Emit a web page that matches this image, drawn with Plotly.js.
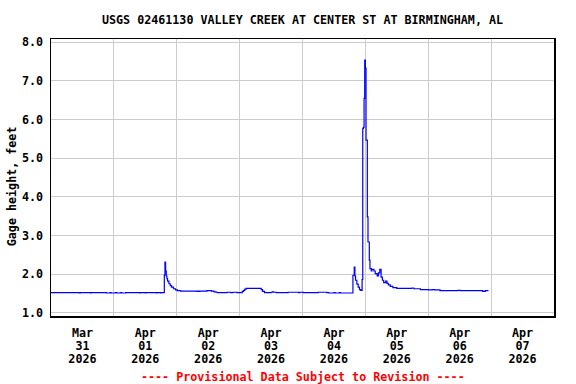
<!DOCTYPE html>
<html>
<head>
<meta charset="utf-8">
<script src="https://cdn.plot.ly/plotly-3.0.1.min.js"></script>
<style>
html,body{margin:0;padding:0;background:#fff;}
#chart{width:576px;height:384px;}
</style>
</head>
<body>
<div id="chart"></div>
<script>
// ---- data ----
const times = [
"2026-03-31 00:00","2026-03-31 10:45","2026-03-31 11:15","2026-03-31 15:00","2026-03-31 15:15",
"2026-03-31 21:15","2026-03-31 22:30","2026-03-31 23:00","2026-04-01 00:30","2026-04-01 01:15",
"2026-04-01 02:30","2026-04-01 03:00","2026-04-01 04:30","2026-04-01 10:00","2026-04-01 10:15",
"2026-04-01 12:00","2026-04-01 12:15","2026-04-01 16:15","2026-04-01 16:30","2026-04-01 17:45",
"2026-04-01 18:00","2026-04-01 19:15","2026-04-01 19:30","2026-04-01 19:45","2026-04-01 20:00",
"2026-04-01 20:15","2026-04-01 20:30","2026-04-01 21:00","2026-04-01 21:30","2026-04-01 22:00",
"2026-04-01 22:45","2026-04-01 23:30","2026-04-02 00:15","2026-04-02 01:30","2026-04-02 07:45",
"2026-04-02 08:00","2026-04-02 08:30","2026-04-02 08:45","2026-04-02 11:30","2026-04-02 13:15",
"2026-04-02 14:15","2026-04-02 15:00","2026-04-02 15:30","2026-04-02 19:15","2026-04-02 20:30",
"2026-04-02 21:30","2026-04-02 23:00","2026-04-03 01:00","2026-04-03 01:30","2026-04-03 02:00",
"2026-04-03 02:30","2026-04-03 08:15","2026-04-03 08:45","2026-04-03 09:30","2026-04-03 12:00",
"2026-04-03 12:30","2026-04-03 13:00","2026-04-03 14:00","2026-04-03 18:30","2026-04-03 22:30",
"2026-04-03 23:00","2026-04-04 00:15","2026-04-04 06:00","2026-04-04 09:15","2026-04-04 10:00",
"2026-04-04 12:00","2026-04-04 12:30","2026-04-04 14:00","2026-04-04 14:30","2026-04-04 19:15",
"2026-04-04 19:45","2026-04-04 20:00","2026-04-04 20:15","2026-04-04 20:45","2026-04-04 21:15",
"2026-04-04 21:45","2026-04-04 22:15","2026-04-04 22:45","2026-04-04 23:00","2026-04-04 23:15",
"2026-04-04 23:30","2026-04-04 23:45","2026-04-05 00:00","2026-04-05 00:15","2026-04-05 00:45",
"2026-04-05 01:00","2026-04-05 01:30","2026-04-05 01:45","2026-04-05 02:15","2026-04-05 02:30",
"2026-04-05 03:15","2026-04-05 03:45","2026-04-05 04:30","2026-04-05 05:00","2026-04-05 05:30",
"2026-04-05 06:00","2026-04-05 06:30","2026-04-05 07:00","2026-04-05 07:45","2026-04-05 08:15",
"2026-04-05 08:45","2026-04-05 09:30","2026-04-05 10:30","2026-04-05 12:00","2026-04-05 17:45",
"2026-04-05 18:30","2026-04-05 21:00","2026-04-06 00:00","2026-04-06 01:30","2026-04-06 02:30",
"2026-04-06 04:30","2026-04-06 11:15","2026-04-06 12:15","2026-04-06 20:45","2026-04-06 21:45",
"2026-04-06 23:00"
];
const gageHeight = [
1.52,1.51,1.52,1.51,1.52,
1.51,1.52,1.51,1.52,1.51,
1.52,1.51,1.52,1.51,1.52,
1.51,1.52,1.51,1.52,1.51,
1.52,1.98,2.31,2.08,1.95,
1.88,1.82,1.75,1.70,1.66,
1.62,1.59,1.57,1.56,1.55,
1.56,1.55,1.56,1.57,1.56,
1.54,1.53,1.52,1.53,1.52,
1.53,1.52,1.55,1.58,1.61,
1.63,1.60,1.55,1.52,1.53,
1.54,1.53,1.52,1.53,1.52,
1.53,1.52,1.53,1.52,1.51,
1.52,1.51,1.52,1.51,1.97,
2.18,1.95,1.84,1.74,1.66,
1.60,1.58,1.86,5.77,5.80,
6.55,7.54,7.33,5.47,3.48,
2.83,2.36,2.14,2.08,2.12,
2.08,2.01,1.95,2.03,2.12,
1.92,1.84,1.78,1.82,1.76,
1.72,1.68,1.65,1.63,1.64,
1.62,1.60,1.59,1.60,1.59,
1.57,1.58,1.57,1.55,1.57,
1.57
];
// tick labels: one row each for month, day and year, centred at noon of each day
const dayLabelPos = ["2026-03-31 12:00","2026-04-01 12:00","2026-04-02 12:00","2026-04-03 12:00",
                     "2026-04-04 12:00","2026-04-05 12:00","2026-04-06 12:00","2026-04-07 12:00"];
const monthLabels = ["Mar","Apr","Apr","Apr","Apr","Apr","Apr","Apr"];
const dayLabels   = ["31","01","02","03","04","05","06","07"];
const yearLabels  = ["2026","2026","2026","2026","2026","2026","2026","2026"];
const dayBounds = ["2026-04-01","2026-04-02","2026-04-03","2026-04-04","2026-04-05","2026-04-06","2026-04-07"];
const xRange = ["2026-03-31 00:00","2026-04-08 00:00"];
const yTickVals = [1,2,3,4,5,6,7,8];
const yTickText = ["1.0","2.0","3.0","4.0","5.0","6.0","7.0","8.0"];
const titleText = "USGS 02461130 VALLEY CREEK AT CENTER ST AT BIRMINGHAM, AL";
const yTitle = "Gage height, feet";
const footer = "---- Provisional Data Subject to Revision ----";

const F = {family:"DejaVu Sans Mono", size:11.7, weight:"bold", color:"#000"};

const traces = [
  {x: times, y: gageHeight, type:"scatter", mode:"lines",
   line:{color:"#0000ff", width:1.2, shape:"hv"}, hoverinfo:"skip"},
  {x: [], y: [], type:"scatter", mode:"lines", xaxis:"x2", yaxis:"y", hoverinfo:"skip"},
  {x: [], y: [], type:"scatter", mode:"lines", xaxis:"x3", yaxis:"y", hoverinfo:"skip"}
];

function labelAxis(texts, standoff, extra) {
  return Object.assign({
    type:"date", range:xRange, fixedrange:true,
    tickmode:"array", tickvals:dayLabelPos, ticktext:texts,
    ticks:"", showgrid:false, zeroline:false,
    showline:true, linecolor:"#000", linewidth:1.5,
    tickfont:F, ticklabelstandoff:standoff
  }, extra || {});
}

const layout = {
  width:576, height:384,
  margin:{l:51, r:22, t:39, b:68, pad:0},
  paper_bgcolor:"#fff", plot_bgcolor:"#fff",
  showlegend:false,
  title:{text:titleText, font:F, x:0.5, xref:"paper", xanchor:"center",
         y:1-20/384, yref:"container", yanchor:"middle"},
  xaxis: labelAxis(monthLabels, 5, {
    mirror:true,
    minor:{tickmode:"array", tickvals:dayBounds, showgrid:true, gridcolor:"#cccccc", gridwidth:1, ticks:""}
  }),
  xaxis2: labelAxis(dayLabels, 18, {overlaying:"x", anchor:"y", side:"bottom"}),
  xaxis3: labelAxis(yearLabels, 31, {overlaying:"x", anchor:"y", side:"bottom"}),
  yaxis:{
    range:[0.915, 8.085], fixedrange:true,
    tickmode:"array", tickvals:yTickVals, ticktext:yTickText,
    ticks:"", showgrid:true, gridcolor:"#cccccc", gridwidth:1, zeroline:false,
    showline:true, linecolor:"#000", linewidth:1.5, mirror:true,
    tickfont:F, ticklabelstandoff:4
  },
  annotations:[
    {text:yTitle, textangle:-90, xref:"paper", yref:"paper",
     x:(11.7-51)/503, y:(316-186.5)/277, xanchor:"center", yanchor:"middle",
     showarrow:false, font:F},
    {text:footer, xref:"paper", yref:"paper",
     x:0.5, y:-(377-316)/277, xanchor:"center", yanchor:"middle",
     showarrow:false, font:Object.assign({}, F, {color:"#ff0000"})}
  ]
};

Plotly.newPlot("chart", traces, layout, {staticPlot:true, displayModeBar:false});
</script>
</body>
</html>
